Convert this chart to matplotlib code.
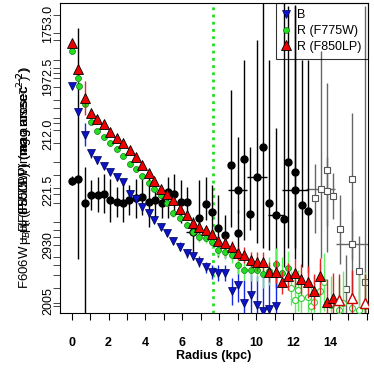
import numpy as np
import matplotlib.pyplot as plt

plt.rcParams['font.family'] = ['Liberation Sans', 'DejaVu Sans']

# B band (blue down triangles)
b_r = [0.00, 0.36, 0.72, 1.05, 1.39, 1.75, 2.08, 2.44, 2.80, 3.14, 3.47, 3.83, 4.17, 4.48, 4.84, 5.18, 5.50,
       5.87, 6.23, 6.56, 6.92, 7.26, 7.62, 7.95, 8.31, 8.67, 9.00, 9.34, 9.70, 10.03, 10.38, 10.71, 11.07]
b_mu = [22.38, 22.16, 21.96, 21.80, 21.74, 21.69, 21.64, 21.59, 21.55, 21.45, 21.40, 21.33, 21.28, 21.22, 21.16,
        21.11, 21.04, 20.99, 20.93, 20.91, 20.86, 20.81, 20.77, 20.76, 20.76, 20.60, 20.66, 20.50, 20.57, 20.48,
        20.43, 20.45, 20.47]
b_err = [0.02, 0.03, 0.10, 0.04, 0.03, 0.03, 0.03, 0.03, 0.03, 0.03, 0.03, 0.03, 0.03, 0.03, 0.03, 0.03, 0.03,
         0.04, 0.04, 0.04, 0.05, 0.05, 0.06, 0.07, 0.07, 0.12, 0.15, 0.20, 0.18, 0.25, 0.30, 0.30, 0.30]

# R (F775W), filled then open
g_r = [0.00, 0.33, 0.38, 0.72, 1.05, 1.39, 1.75, 2.08, 2.44, 2.80, 3.14, 3.47, 3.83, 4.17, 4.48, 4.84, 5.18,
       5.50, 5.87, 6.23, 6.56, 6.92, 7.26, 7.62, 7.95, 8.31, 8.67, 9.00, 9.34, 9.70, 10.03, 10.38, 10.71, 11.07,
       11.42, 11.74]
g_mu = [22.69, 22.45, 22.38, 22.23, 22.07, 21.99, 21.94, 21.89, 21.84, 21.78, 21.71, 21.66, 21.60, 21.54, 21.49,
        21.44, 21.37, 21.28, 21.24, 21.18, 21.12, 21.07, 21.06, 21.03, 20.96, 20.94, 20.92, 20.83, 20.79, 20.79,
        20.79, 20.75, 20.78, 20.84, 20.76, 20.80]
g_err = [0.02, 0.03, 0.03, 0.03, 0.02, 0.02, 0.02, 0.02, 0.02, 0.02, 0.02, 0.02, 0.02, 0.02, 0.02, 0.02, 0.03,
         0.03, 0.03, 0.03, 0.03, 0.04, 0.04, 0.05, 0.05, 0.06, 0.07, 0.08, 0.09, 0.10, 0.10, 0.12, 0.12, 0.14,
         0.14, 0.15]
go_r = [11.90, 12.10, 12.25, 12.43, 12.79, 12.95, 13.15, 13.46, 13.65, 14.05, 14.50, 14.70, 15.20, 15.55, 15.90]
go_mu = [20.63, 20.53, 20.61, 20.54, 20.55, 20.47, 20.51, 20.60, 20.68, 20.48, 20.44, 20.50, 20.46, 20.44, 20.47]
go_err = [0.15, 0.18, 0.18, 0.20, 0.20, 0.22, 0.22, 0.25, 0.25, 0.25, 0.28, 0.28, 0.30, 0.30, 0.30]

# R (F850LP), filled then open
r_r = [0.00, 0.36, 0.72, 1.05, 1.39, 1.75, 2.08, 2.44, 2.80, 3.14, 3.47, 3.83, 4.17, 4.48, 4.84, 5.18, 5.50,
       5.87, 6.23, 6.56, 6.92, 7.26, 7.62, 7.95, 8.31, 8.67, 9.00, 9.34, 9.70, 10.03, 10.38, 10.71, 11.07, 11.42,
       11.74, 12.10, 12.43, 12.79, 13.15, 13.46, 13.82, 14.18]
r_mu = [22.76, 22.53, 22.28, 22.15, 22.10, 22.05, 21.98, 21.93, 21.89, 21.83, 21.77, 21.70, 21.63, 21.56, 21.49,
        21.45, 21.39, 21.32, 21.26, 21.19, 21.16, 21.13, 21.10, 21.04, 21.02, 20.99, 20.93, 20.92, 20.87, 20.86,
        20.86, 20.77, 20.77, 20.68, 20.73, 20.76, 20.71, 20.68, 20.60, 20.73, 20.51, 20.54]
r_err = [0.02, 0.03, 0.15, 0.02, 0.02, 0.02, 0.02, 0.02, 0.02, 0.02, 0.02, 0.02, 0.02, 0.02, 0.02, 0.02, 0.02,
         0.03, 0.03, 0.03, 0.03, 0.03, 0.04, 0.04, 0.05, 0.05, 0.06, 0.07, 0.07, 0.08, 0.08, 0.09, 0.10, 0.10,
         0.12, 0.12, 0.13, 0.14, 0.15, 0.16, 0.20, 0.22]
ro_r = [14.50, 15.20, 15.90]
ro_mu = [20.53, 20.54, 20.50]
ro_err = [0.22, 0.25, 0.25]

# colour profile (black points)
c_r = [0.00, 0.36, 0.72, 1.05, 1.41, 1.75, 2.08, 2.44, 2.80, 3.11, 3.47, 3.83, 4.19, 4.51, 4.88, 5.20, 5.56,
       5.91, 6.27, 6.59, 6.92, 7.28, 7.63, 7.95, 8.31, 8.63, 9.00, 9.00, 9.34, 9.66, 10.03, 10.38, 10.71, 11.07,
       11.50, 11.74, 12.10, 12.10, 12.46, 12.79]
c_v = [21.56, 21.58, 21.37, 21.44, 21.44, 21.45, 21.39, 21.38, 21.37, 21.39, 21.41, 21.42, 21.38, 21.39, 21.37,
       21.46, 21.45, 21.38, 21.38, 21.12, 21.24, 21.36, 21.29, 21.15, 21.09, 21.70, 21.11, 21.48, 21.75, 21.27,
       21.59, 21.85, 21.37, 21.26, 21.23, 21.72, 21.64, 21.48, 21.35, 21.30]
c_lo = [0.04, 0.70, 1.10, 0.13, 0.15, 0.17, 0.19, 0.13, 0.17, 0.13, 0.17, 0.16, 0.22, 0.16, 0.13, 0.22, 0.17,
        0.19, 0.13, 0.18, 0.16, 0.14, 0.18, 0.25, 0.20, 0.54, 0.21, 0.20, 0.70, 0.14, 0.57, 0.87, 0.41, 0.63,
        0.42, 0.74, 0.76, 0.50, 0.54, 0.54]
c_hi = [0.04, 1.31, 0.31, 0.13, 0.15, 0.17, 0.19, 0.13, 0.17, 0.13, 0.17, 0.16, 0.22, 0.16, 0.13, 0.13, 0.17,
        0.19, 0.13, 0.13, 0.33, 0.23, 0.23, 0.29, 0.17, 0.65, 0.20, 0.46, 0.86, 0.58, 1.19, 1.25, 1.24, 0.76,
        1.88, 1.36, 1.45, 1.60, 1.26, 1.31]
c_xerr = [0, 0, 0, 0, 0, 0, 0, 0, 0, 0, 0, 0, 0, 0, 0, 0, 0, 0, 0, 0.4, 0, 0, 0, 0, 0, 0, 0, 0.52, 0, 0,
          0.55, 0, 0, 0.43, 0, 0, 0, 0.7, 0, 0]
co_r = [13.19, 13.49, 13.82, 13.82, 14.18, 14.54, 14.87, 15.20, 15.20, 15.59, 15.90]
co_v = [21.41, 21.49, 21.65, 21.47, 21.43, 21.14, 20.62, 21.58, 21.01, 20.78, 20.68]
co_lo = [0.3, 0.6, 0.71, 0.3, 0.2, 0.3, 0.3, 0.7, 0.6, 0.3, 0.5]
co_hi = [0.3, 1.2, 0.76, 0.3, 0.2, 0.3, 0.3, 0.57, 0.3, 0.3, 2.4]
co_xerr = [0, 0.8, 0, 0, 0, 0, 0, 0, 0.85, 0, 0]

r_break = 7.66

yticks = [23.0, 22.5, 22.0, 21.5, 21.0, 20.5]
ytick_labels = ["1753.0", "1972.5", "212.0", "221.5", "2930", "2005"]
ytick_label_pos = [22.92, 22.465, 21.965, 21.475, 21.0, 20.515]
ytick_minor = [22.84, 22.78, 22.61, 22.54, 22.45, 22.375, 22.26, 22.19, 22.11, 22.06, 21.89, 21.72, 21.61,
               21.45, 21.37, 21.20, 21.13, 21.07, 20.90, 20.83, 20.74, 20.63, 20.47]

fig = plt.figure(figsize=(3.74, 3.74), dpi=100)
ax = fig.add_axes([60 / 374, 61 / 374, 308 / 374, 310 / 374])

ew = 1.0
ax.errorbar(co_r, co_v, yerr=[co_lo, co_hi], xerr=co_xerr, fmt='s', ms=4.3, mfc='white', mec='#555555',
            mew=0.8, ecolor='#666666', elinewidth=ew, capsize=0, zorder=1)
ax.errorbar(c_r, c_v, yerr=[c_lo, c_hi], xerr=c_xerr, fmt='o', ms=5, mfc='black', mec='black',
            ecolor='black', elinewidth=ew, capsize=0, zorder=2)

ax.errorbar(b_r, b_mu, yerr=b_err, fmt='v', ms=5.6, mfc='#0a14c8', mec='#000050', mew=0.5,
            ecolor='#1428e6', elinewidth=ew, capsize=0, zorder=3)
ax.errorbar(g_r, g_mu, yerr=g_err, fmt='o', ms=4.3, mfc='#22dd22', mec='#117711', mew=0.5,
            ecolor='#55ee55', elinewidth=ew, capsize=0, zorder=4)
ax.errorbar(go_r, go_mu, yerr=go_err, fmt='o', ms=4.3, mfc='white', mec='#33cc33', mew=0.8,
            ecolor='#66ee66', elinewidth=ew, capsize=0, zorder=4)
ax.errorbar(r_r, r_mu, yerr=r_err, fmt='^', ms=7, mfc='#ee0000', mec='black', mew=0.6,
            ecolor='#ee2222', elinewidth=ew, capsize=0, zorder=5)
ax.errorbar(ro_r, ro_mu, yerr=ro_err, fmt='^', ms=7, mfc='white', mec='#cc0000', mew=1.0,
            ecolor='#cc2222', elinewidth=ew, capsize=0, zorder=5)

ax.axvline(r_break, color='#22dd22', lw=2, ls=(0, (1, 1.6)), zorder=0)

ax.set_xlim(-0.63, 16.06)
ax.set_ylim(20.413, 23.104)

ax.set_xticks(range(0, 17))
ax.set_xticklabels([str(v) if v % 2 == 0 and v < 16 else '' for v in range(0, 17)],
                   fontsize=9, fontweight='bold')
ax.tick_params(axis='x', direction='out', length=5, width=0.8, pad=12)
ax.set_xlabel("Radius (kpc)", fontsize=9, fontweight='bold', labelpad=1)

# y ticks: overlapping label sets, drawn as text next to the axis
ax.set_yticks(yticks)
ax.set_yticklabels([])
ax.set_yticks(ytick_minor, minor=True)
ax.tick_params(axis='y', which='both', direction='out', length=5, width=0.7, color='#444444')
for yy, lab in zip(ytick_label_pos, ytick_labels):
    ax.text(-0.039, yy, lab, transform=ax.get_yaxis_transform(), rotation=90,
            ha='center', va='center', fontsize=9, clip_on=False)

# overlapping axis titles
ylab_y = [1 - 178 / 374, 1 - 150 / 374, 1 - 160 / 374]
ylab_txt = ["F606W \u2212 R (F850LP) (mag arcsec$^{-2}$)",
            "\u03bc$_R$ (F775W) (mag arcsec$^{-2}$)",
            "\u03bc$_B$ (F850LP) (mag arcsec$^{-2}$)"]
for yy, tt in zip(ylab_y, ylab_txt):
    fig.text(25 / 374, yy, tt, rotation=90, ha='center', va='center', fontsize=9.5)

leg = ax.legend(handles=[
    plt.Line2D([], [], marker='v', ls='', ms=5.6, mfc='#0a14c8', mec='#000050', mew=0.5),
    plt.Line2D([], [], marker='o', ls='', ms=4.3, mfc='#22dd22', mec='#117711', mew=0.5),
    plt.Line2D([], [], marker='^', ls='', ms=6.5, mfc='#ee0000', mec='black', mew=0.6)],
    labels=["B", "R (F775W)", "R (F850LP)"], loc='upper right', bbox_to_anchor=(1, 1),
    borderaxespad=0, fontsize=9, frameon=True, fancybox=False, handlelength=0.6,
    handletextpad=0.6, labelspacing=0.3, borderpad=0.5)
leg.get_frame().set_edgecolor('black')
leg.get_frame().set_facecolor('none')
leg.get_frame().set_linewidth(0.8)

fig.savefig("out.png", dpi=100)
